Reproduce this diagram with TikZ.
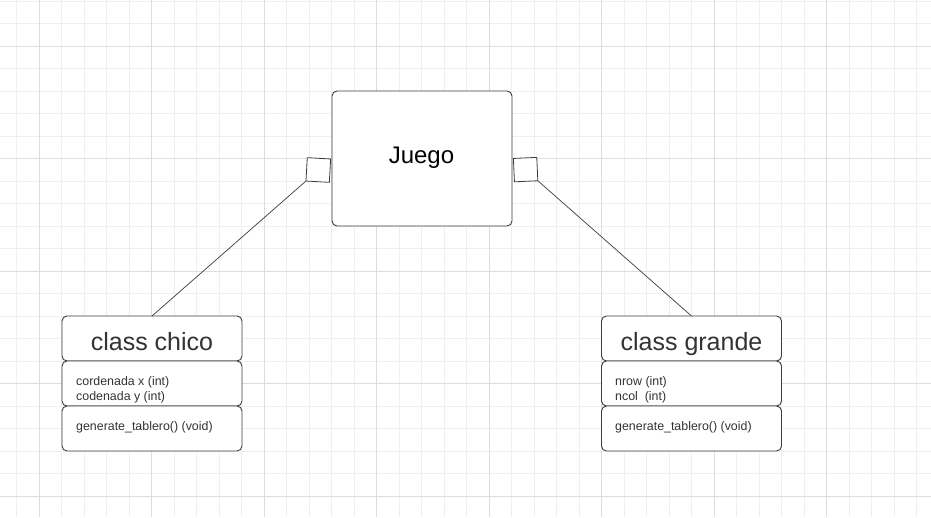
\documentclass[tikz,border=0pt]{standalone}
\usepackage{fontspec}
\setmainfont{Liberation Sans}
\definecolor{minorgrid}{HTML}{EFEFEF}
\definecolor{majorgrid}{HTML}{DDDDDD}
\definecolor{boxline}{HTML}{3C3C3C}
\definecolor{txtgray}{HTML}{333333}
\begin{document}
\begin{tikzpicture}[x=1pt,y=-1pt,
  box/.style={draw=boxline,line width=0.9pt,rounded corners=5pt,fill=white,minimum width=180pt,minimum height=45pt,inner sep=0pt,outer sep=0pt},
  bigbox/.style={box,minimum height=135pt},
  title/.style={text=txtgray,font=\fontsize{25}{29}\selectfont,anchor=base,inner sep=0pt},
  attr/.style={text=txtgray,font=\fontsize{12.4}{14}\selectfont,anchor=base west,inner sep=0pt},
  port/.style={draw=boxline,line width=0.8pt,fill=white,minimum size=23.4pt,inner sep=0pt,outer sep=0pt},
  link/.style={draw=boxline,line width=0.7pt}]
\useasboundingbox (0,0) rectangle (931,517);
\fill[white] (0,0) rectangle (931,517);
% grid
\foreach \i in {0,...,41} {\draw[minorgrid,line width=0.8pt] ({16.5+22.5*\i},0) -- ({16.5+22.5*\i},517);}
\foreach \j in {0,...,23} {\draw[minorgrid,line width=0.8pt] (0,{1+22.5*\j}) -- (931,{1+22.5*\j});}
\foreach \i in {0,...,7} {\draw[majorgrid,line width=0.8pt] ({39+112.5*\i},0) -- ({39+112.5*\i},517);}
\foreach \j in {0,...,4} {\draw[majorgrid,line width=0.8pt] (0,{46+112.5*\j}) -- (931,{46+112.5*\j});}
% Juego
\node[bigbox] (juego) at (422,158.5) {};
\node[anchor=base,inner sep=0pt,font=\fontsize{24}{28}\selectfont] (juegotxt) at (421.5,163.5) {Juego};
% ports
\node[port,rotate=-3.2] (portL) at (318.3,170) {};
\node[port,rotate=2.6] (portR) at (525.6,169.6) {};
% class chico
\node[box] (chico1) at (152,338.5) {};
\node[box] (chico2) at (152,383.5) {};
\node[box] (chico3) at (152,428.5) {};
\node[title] (chicot) at (152,350.5) {class chico};
\node[attr] (chicoa1) at (76,385) {cordenada x (int)};
\node[attr] (chicoa2) at (76,400) {codenada y (int)};
\node[attr] (chicom) at (76,430) {generate\_tablero() (void)};
% class grande
\node[box] (grande1) at (691.5,338.5) {};
\node[box] (grande2) at (691.5,383.5) {};
\node[box] (grande3) at (691.5,428.5) {};
\node[title] (grandet) at (691.5,350.5) {class grande};
\node[attr] (grandea1) at (615,385) {nrow (int)};
\node[attr] (grandea2) at (615,400) {ncol\ \ (int)};
\node[attr] (grandem) at (615,430) {generate\_tablero() (void)};
% connectors
\draw[link] (portL.south west) -- (chico1.north);
\draw[link] (portR.south east) -- (grande1.north);
\end{tikzpicture}
\end{document}
